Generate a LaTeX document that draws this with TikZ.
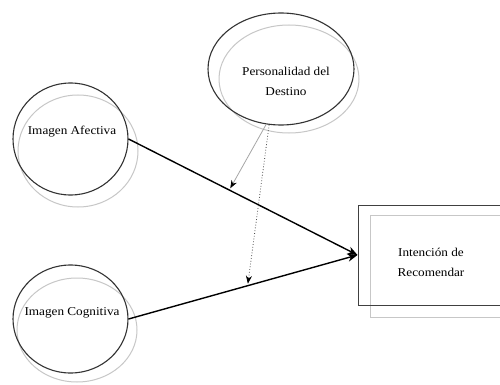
\documentclass[tikz,border=0pt]{standalone}
\usepackage{fontspec}
\setmainfont{Liberation Serif}[FakeStretch=1.1]
\usetikzlibrary{shapes.geometric,arrows.meta,calc}
\begin{document}
\begin{tikzpicture}[x=1pt,y=-1pt,
  oval/.style={ellipse,draw=black!80,line width=1.1pt,inner sep=0pt},
  shade/.style={draw=black!22,line width=1pt},
  lbl/.style={font=\fontsize{12}{20}\selectfont,text=black,align=center,inner sep=0pt},
  box/.style={rectangle,draw=black!75,line width=1pt,inner sep=0pt},
  main/.style={line width=1.4pt,-{Stealth[length=10pt,width=8pt]}},
  modsolid/.style={draw=black!35,line width=0.8pt,-{Stealth[length=8pt,width=6pt,black]},shorten >=2pt},
  moddot/.style={draw=black!70,line width=0.8pt,dotted,-{Stealth[length=8pt,width=6pt,black]},shorten >=2pt}
]
\useasboundingbox (0,0) rectangle (500,385);
\clip (0,0) rectangle (500,385);
\fill[white] (0,0) rectangle (500,385);
% shadows
\draw[shade] (289,79) ellipse [x radius=70, y radius=54];
\draw[shade] (78,151) ellipse [x radius=60, y radius=56];
\draw[shade] (77,330) ellipse [x radius=60, y radius=52];
\draw[shade] (370,215) rectangle (515,317);
% nodes
\node[oval,minimum width=146,minimum height=112] (pd) at (281,69) {};
\node[lbl] (pdT) at (286,81) {Personalidad del\\Destino};
\node[oval,minimum width=115,minimum height=112] (afe) at (70.5,139) {};
\node[lbl] (afeT) at (72,132) {Imagen Afectiva};
\node[oval,minimum width=115,minimum height=108] (cog) at (70.5,319) {};
\node[lbl] (cogT) at (72,313) {Imagen Cognitiva};
\node[box,minimum width=147,minimum height=100] (rec) at (431.5,255) {};
\node[lbl] (recT) at (431,262) {Intención de\\Recomendar};
% connectors
\draw[main] (afe.east) -- (rec.west);
\draw[main] (cog.east) -- (rec.west);
\coordinate (m1) at ($(afe.east)!0.44!(rec.west)$);
\coordinate (m2) at ($(cog.east)!0.52!(rec.west)$);
\draw[modsolid] (pd.255) -- (m1);
\draw[moddot] (pd.258) -- (m2);
\end{tikzpicture}
\end{document}
